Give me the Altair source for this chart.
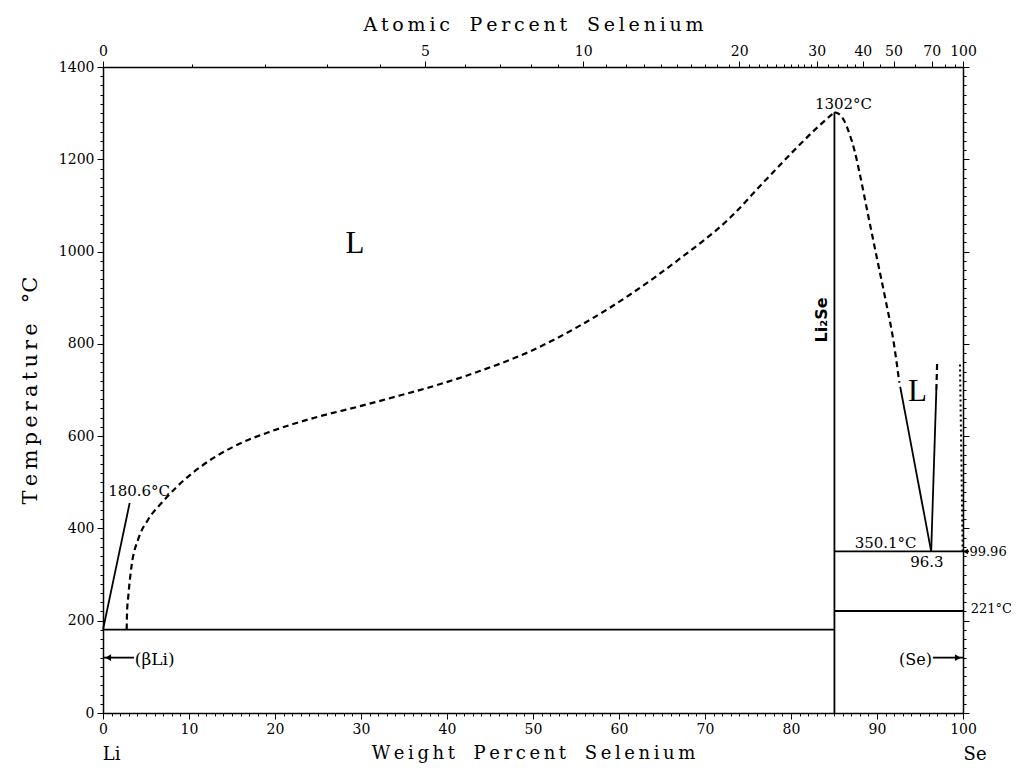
import altair as alt
import pandas as pd

# ---------------- data ----------------
M_LI = 6.941
M_SE = 78.96

# left liquidus (dashed), wt% Se / temperature
liq_left_wt = [2.75, 2.8, 2.95, 3.33, 4.1, 5.27, 6.8, 8.57, 11.3, 15.15, 19.8, 24.8, 29.9,
               34.5, 38.0, 43.8, 49.7, 55.5, 61.3, 67.1, 72.9, 76.8, 80.5, 83.0, 85.05]
liq_left_T = [180.6, 220, 255, 320, 377, 420, 455, 490, 533, 577, 612, 641, 665,
              688, 706, 741, 784, 840, 907, 985, 1073, 1150, 1222, 1268, 1302]

# right liquidus of Li2Se (dashed)
liq_right_wt = [85.05, 85.6, 86.2, 86.8, 87.4, 88.0, 89.0, 90.0, 91.0, 91.9, 92.6]
liq_right_T = [1302, 1298, 1283, 1255, 1218, 1168, 1076, 985, 895, 808, 716]

# solid segments: (name, wt list, T list)
solid_names = ["eutLi", "Li2Se", "mono", "Se_mp", "liqA", "liqB", "leaderLi",
               "arrowLi", "arrowSe", "leader9996"]
solid_wt = [[0, 85.05], [85.05, 85.05], [85.05, 100], [85.05, 100], [92.7, 96.3],
            [96.3, 96.9], [0, 3.1], [0, 3.6], [96.5, 100], [100, 100.7]]
solid_T = [[180.6, 180.6], [0, 1302], [350.1, 350.1], [221, 221], [707, 350.1],
           [350.1, 700], [180.6, 455], [120, 120], [120, 120], [350.1, 350.1]]

# short dashed stub above the Se-side liquidus
stub_wt = [96.9, 97.0]
stub_T = [700, 762]

# dotted Se-rich liquidus
dot_wt = [99.96, 99.65]
dot_T = [350.1, 760]

# annotations
ann_text = ["1302°C", "180.6°C", "350.1°C", "96.3"]
ann_wt = [86.1, 4.2, 91.0, 95.8]
ann_T = [1320, 481, 368, 327]

side_text = ["99.96", "221°C"]
side_wt = [100.75, 100.9]
side_T = [349, 225]

li_text = ["(βLi)"]
li_wt = [3.7]
li_T = [115]

se_text = ["(Se)"]
se_wt = [96.4]
se_T = [115]

big_text = ["L", "L"]
big_wt = [29.3, 94.7]
big_T = [1016, 696]

comp_text = ["Li₂Se"]
comp_wt = [83.6]
comp_T = [852]

elem_text = ["Li", "Se"]
elem_wt = [1.0, 101.4]
elem_T = [-91, -91]

# axis ticks
bottom_major = list(range(0, 101, 10))
bottom_minor = [v for v in range(0, 101) if v % 10]
left_major = list(range(0, 1401, 200))
left_minor = [v for v in range(0, 1401, 20) if v % 200]
top_at_major = [0, 5, 10, 20, 30, 40, 50, 70, 100]
top_at_minor = [1, 2, 3, 4, 6, 7, 8, 9, 11, 12, 13, 14, 15, 16, 17, 18, 19,
                21, 22, 23, 24, 25, 26, 27, 28, 29, 32, 34, 36, 38, 45, 60, 80, 90]

TS = "\u2009"  # thin space used as letter spacing in the axis titles


def spaced(s):
    return TS.join(ch if ch != " " else "\u00a0\u00a0" for ch in s)


def at2wt(a):
    return 100.0 * a * M_SE / (a * M_SE + (100 - a) * M_LI)


# ---------------- build tables ----------------
rows = []
for n, ws, ts in zip(solid_names, solid_wt, solid_T):
    for i, (w, t) in enumerate(zip(ws, ts)):
        rows.append({"series": n, "idx": i, "wt": w, "T": t})
solid_df = pd.DataFrame(rows)

dash_rows = []
for n, ws, ts in [("liqL", liq_left_wt, liq_left_T), ("liqR", liq_right_wt, liq_right_T)]:
    for i, (w, t) in enumerate(zip(ws, ts)):
        dash_rows.append({"series": n, "idx": i, "wt": w, "T": t})
dash_df = pd.DataFrame(dash_rows)
stub_df = pd.DataFrame({"series": "stub", "idx": [0, 1], "wt": stub_wt, "T": stub_T})
dot_df = pd.DataFrame({"series": "dot", "idx": [0, 1], "wt": dot_wt, "T": dot_T})

xs = alt.Scale(domain=[0, 100], nice=False, zero=False)
ys = alt.Scale(domain=[0, 1400], nice=False, zero=False)

SERIF = "DejaVu Serif"


def X(axis=None):
    return alt.X("wt:Q", scale=xs, axis=axis)


def Y(axis=None):
    return alt.Y("T:Q", scale=ys, axis=axis)


common = dict(grid=False, domainColor="black", tickColor="black", labelColor="black",
              titleColor="black", labelFont=SERIF, titleFont=SERIF, labelFontSize=14,
              titleFontWeight="normal", labelFlush=False, labelOverlap=False)

frame = pd.DataFrame({"wt": [0, 100], "T": [0, 1400]})


def carrier(xaxis=None, yaxis=None):
    return alt.Chart(frame).mark_point(opacity=0).encode(x=X(xaxis), y=Y(yaxis))


axes_layers = [
    carrier(xaxis=alt.Axis(orient="bottom", values=bottom_major, format="d", tickSize=6,
                           labelPadding=3, domainWidth=1.5,
                           title=spaced("Weight Percent Selenium"), titleFontSize=18,
                           titlePadding=8, **common)),
    carrier(xaxis=alt.Axis(orient="bottom", values=bottom_minor, tickSize=3, labels=False,
                           domain=False, title="", **common)),
    carrier(xaxis=alt.Axis(orient="top", values=[at2wt(a) for a in top_at_major], tickSize=6,
                           labelPadding=3, domainWidth=1.5,
                           labelExpr="round(100*(datum.value/78.96)/((datum.value/78.96)+((100-datum.value)/6.941)))",
                           title=spaced("Atomic Percent Selenium"), titleFontSize=19,
                           titlePadding=10, **common)),
    carrier(xaxis=alt.Axis(orient="top", values=[at2wt(a) for a in top_at_minor], tickSize=3,
                           labels=False, domain=False, title="", **common)),
    carrier(yaxis=alt.Axis(orient="left", values=left_major, format="d", tickSize=6,
                           labelPadding=3, domainWidth=1.5,
                           title=spaced("Temperature") + "\u00a0\u00a0\u00a0°C",
                           titleFontSize=21, titlePadding=18, **common)),
    carrier(yaxis=alt.Axis(orient="left", values=left_minor, tickSize=3, labels=False,
                           domain=False, title="", **common)),
    carrier(yaxis=alt.Axis(orient="right", values=left_major, tickSize=6, labels=False,
                           domainWidth=1.5, title="", **common)),
    carrier(yaxis=alt.Axis(orient="right", values=left_minor, tickSize=3, labels=False,
                           domain=False, title="", **common)),
]

solid = alt.Chart(solid_df).mark_line(color="black", strokeWidth=1.8).encode(
    x=X(), y=Y(), detail="series:N", order="idx:Q")
dashed = alt.Chart(dash_df).mark_line(color="black", strokeWidth=2.2, strokeDash=[6, 4],
                                      interpolate="monotone").encode(
    x=X(), y=Y(), detail="series:N", order="idx:Q")
stub = alt.Chart(stub_df).mark_line(color="black", strokeWidth=2.2, strokeDash=[6, 4]).encode(
    x=X(), y=Y(), order="idx:Q")
dotted = alt.Chart(dot_df).mark_line(color="black", strokeWidth=2, strokeDash=[2, 3]).encode(
    x=X(), y=Y(), order="idx:Q")

arrow_df_l = pd.DataFrame({"wt": [0.6], "T": [120]})
arrow_df_r = pd.DataFrame({"wt": [99.4], "T": [120]})
arrow_df_9 = pd.DataFrame({"wt": [100.3], "T": [350.1]})
arrows = [
    alt.Chart(arrow_df_l).mark_point(shape="triangle-left", filled=True, color="black",
                                     size=45, opacity=1).encode(x=X(), y=Y()),
    alt.Chart(arrow_df_r).mark_point(shape="triangle-right", filled=True, color="black",
                                     size=45, opacity=1).encode(x=X(), y=Y()),
    alt.Chart(arrow_df_9).mark_point(shape="triangle-left", filled=True, color="black",
                                     size=30, opacity=1).encode(x=X(), y=Y()),
]


def texts(txt, ws, ts, **mk):
    df = pd.DataFrame({"label": txt, "wt": ws, "T": ts})
    return alt.Chart(df).mark_text(color="black", **mk).encode(x=X(), y=Y(), text="label:N")


text_layers = [
    texts(ann_text, ann_wt, ann_T, font=SERIF, fontSize=15, align="center", baseline="middle"),
    texts(side_text, side_wt, side_T, font=SERIF, fontSize=13, align="left", baseline="middle"),
    texts(li_text, li_wt, li_T, font=SERIF, fontSize=17, align="left", baseline="middle"),
    texts(se_text, se_wt, se_T, font=SERIF, fontSize=16, align="right", baseline="middle"),
    texts(big_text, big_wt, big_T, font="Liberation Serif", fontSize=31, align="center",
          baseline="middle"),
    texts(comp_text, comp_wt, comp_T, font="DejaVu Sans", fontSize=16, fontWeight="bold",
          align="center", baseline="middle", angle=270),
    texts(elem_text, elem_wt, elem_T, font=SERIF, fontSize=18, align="center",
          baseline="middle"),
]

chart = alt.layer(
    *axes_layers, solid, dashed, stub, dotted, *arrows, *text_layers
).resolve_axis(x="independent", y="independent").properties(
    width=860, height=646,
    autosize=alt.AutoSizeParams(type="none"),
    padding={"left": 95, "top": 59, "right": 48, "bottom": 52},
).configure_view(strokeWidth=0)

chart.save("out.html", embed_options={"renderer": "svg", "actions": False})
